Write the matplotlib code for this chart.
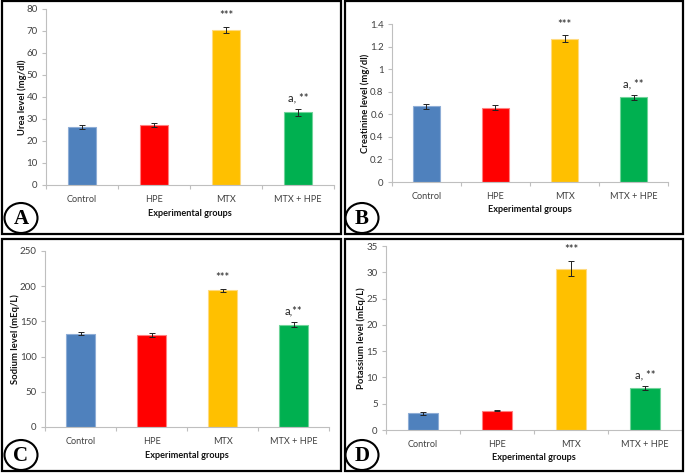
import matplotlib
matplotlib.use("Agg")
import matplotlib.pyplot as plt
from matplotlib.patches import Rectangle, Ellipse

groups = ["Control", "HPE", "MTX", "MTX + HPE"]
colors = ["#4F81BD", "#FF0000", "#FFC000", "#00B050"]
edge_colors = ["#8EADD6", "#FF8080", "#FFDB80", "#70D49A"]

urea = [26.5, 27.3, 70.5, 33.0]
urea_err = [1.0, 0.8, 1.4, 1.5]
creat = [0.67, 0.66, 1.27, 0.75]
creat_err = [0.02, 0.022, 0.03, 0.024]
sodium = [132.5, 130.5, 194.0, 145.0]
sodium_err = [2.0, 2.8, 2.0, 3.5]
potas = [3.2, 3.7, 30.7, 8.0]
potas_err = [0.3, 0.15, 1.5, 0.35]

annot_A = ["", "", "***", "a, **"]
annot_B = ["", "", "***", "a, **"]
annot_C = ["", "", "***", "a,**"]
annot_D = ["", "", "***", "a, **"]

W, H = 685, 474
fig = plt.figure(figsize=(W / 100, H / 100), dpi=100)
FONT = "Lato"

def fx(x):
    return x / W

def fy(y):
    return 1 - y / H

def panel(box, ax_px, vals, errs, ylim, yticks, ytlabels, ylabel, annots,
          letter, ylab_x, circ):
    x0, y0, x1, y1 = box
    fig.patches.append(Rectangle((fx(x0), fy(y1)), fx(x1 - x0), (y1 - y0) / H,
                                 transform=fig.transFigure, fill=False,
                                 edgecolor="black", linewidth=1.6, zorder=0))
    l, t, r, b = ax_px
    ax = fig.add_axes([fx(l), fy(b), fx(r - l), (b - t) / H])
    ax.bar(range(4), vals, width=0.4, color=colors, edgecolor=edge_colors,
           linewidth=0.8, zorder=2)
    ax.errorbar(range(4), vals, yerr=errs, fmt="none", ecolor="#222222",
                elinewidth=0.7, capsize=2, capthick=0.7, zorder=3)
    for i, a in enumerate(annots):
        if a:
            ax.annotate(a, (i, vals[i] + errs[i]), xytext=(0, 4),
                        textcoords="offset points", ha="center", va="bottom",
                        fontsize=8, color="#222222", family=FONT)
    ax.set_xlim(-0.5, 3.5)
    ax.set_ylim(*ylim)
    ax.set_yticks(yticks)
    ax.set_yticklabels(ytlabels)
    ax.set_xticks(range(4))
    ax.set_xticklabels(groups)
    ax.set_xticks([-0.5, 0.5, 1.5, 2.5, 3.5], minor=True)
    ax.tick_params(axis="x", which="major", length=0, pad=7,
                   labelsize=6.6, labelcolor="#404040")
    ax.tick_params(axis="x", which="minor", length=3, color="#BFBFBF",
                   width=0.8)
    ax.tick_params(axis="y", length=3, color="#BFBFBF", width=0.8, pad=3,
                   labelsize=7, labelcolor="#404040")
    for lab in ax.get_xticklabels() + ax.get_yticklabels():
        lab.set_family(FONT)
    for s in ["top", "right"]:
        ax.spines[s].set_visible(False)
    for s in ["left", "bottom"]:
        ax.spines[s].set_color("#BFBFBF")
        ax.spines[s].set_linewidth(0.8)
    ax.patch.set_alpha(0)
    fig.text(fx(ylab_x), fy((t + b) / 2), ylabel, rotation=90, ha="center",
             va="center", fontsize=6.8, fontweight="bold", family=FONT,
             color="#111111")
    fig.text(fx((l + r) / 2), fy(b + 28), "Experimental groups", ha="center",
             va="center", fontsize=6.6, fontweight="bold", family=FONT,
             color="#111111")
    cx, cy = circ
    fig.patches.append(Ellipse((fx(cx), fy(cy)), 33 / W, 30 / H,
                               transform=fig.transFigure, fill=True,
                               facecolor="white", edgecolor="black",
                               linewidth=1.5, zorder=5))
    fig.text(fx(cx), fy(cy + 1), letter, ha="center", va="center",
             fontsize=15, fontweight="bold", family="Liberation Serif",
             zorder=6)
    return ax


panel((2, 1, 341, 234), (46, 9, 334, 185), urea, urea_err, (0, 80),
      list(range(0, 81, 10)), [str(v) for v in range(0, 81, 10)],
      "Urea level (mg/dl)", annot_A, "A", 22, (21, 218))
panel((345, 1, 683, 234), (392, 24, 668, 182), creat, creat_err, (0, 1.4),
      [0, 0.2, 0.4, 0.6, 0.8, 1.0, 1.2, 1.4],
      ["0", "0.2", "0.4", "0.6", "0.8", "1", "1.2", "1.4"],
      "Creatinine level (mg/dl)", annot_B, "B", 365, (362, 218))
panel((2, 239, 341, 471), (45, 251, 329, 427), sodium, sodium_err, (0, 250),
      list(range(0, 251, 50)), [str(v) for v in range(0, 251, 50)],
      "Sodium level (mEq/L)", annot_C, "C", 15, (21, 455))
panel((345, 239, 683, 471), (386, 246, 682, 430), potas, potas_err, (0, 35),
      list(range(0, 36, 5)), [str(v) for v in range(0, 36, 5)],
      "Potassium level (mEq/L)", annot_D, "D", 361, (362, 455))

fig.savefig("out.png", dpi=100)
